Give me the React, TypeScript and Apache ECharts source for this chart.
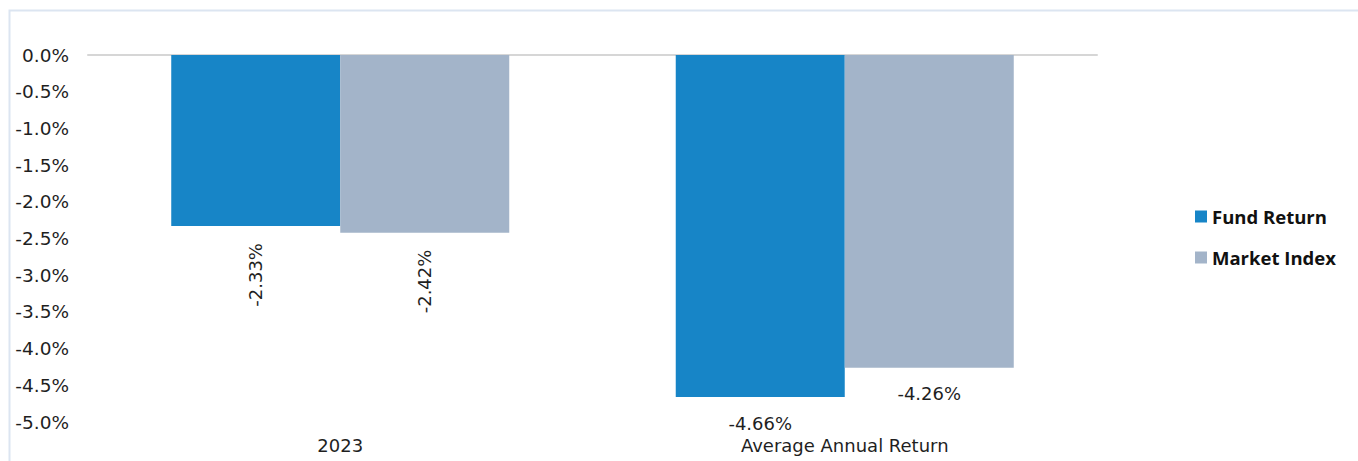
import React, { useEffect, useRef } from "react";
import * as echarts from "echarts";

const categories = ["2023", "Average Annual Return"];
const fundReturn = [-2.33, -4.66];
const marketIndex = [-2.42, -4.26];
const seriesNames = ["Fund Return", "Market Index"];

const FONT = "'DejaVu Sans', sans-serif";
const TEXT = "#1f1f1f";

function labelFor(i: number) {
  if (i === 0) {
    return {
      show: true,
      position: "bottom",
      distance: 17,
      rotate: 90,
      align: "right",
      verticalAlign: "middle",
      fontFamily: FONT,
      fontSize: 18,
      color: TEXT,
      formatter: (p: any) => p.value.toFixed(2) + "%",
    };
  }
  return {
    show: true,
    position: "bottom",
    distance: 17,
    fontFamily: FONT,
    fontSize: 18,
    color: TEXT,
    formatter: (p: any) => p.value.toFixed(2) + "%",
  };
}

export default function App() {
  const ref = useRef<HTMLDivElement>(null);
  useEffect(() => {
    if (!ref.current) return;
    const chart = echarts.init(ref.current, null, { renderer: "svg" });
    chart.setOption({
      animation: false,
      backgroundColor: "#ffffff",
      graphic: [
        {
          type: "rect",
          shape: { x: 9.5, y: 10.5, width: 1400, height: 500 },
          style: { fill: "none", stroke: "#dce5f1", lineWidth: 2 },
          silent: true,
        },
      ],
      legend: {
        orient: "vertical",
        left: 1190,
        top: 202,
        itemWidth: 12,
        itemHeight: 12,
        itemGap: 22,
        icon: "rect",
        data: seriesNames,
        textStyle: {
          fontFamily: "'Open Sans', sans-serif",
          fontWeight: "bold",
          fontSize: 18.5,
          lineHeight: 18,
          color: "#111",
        },
      },
      grid: { left: 88, right: 261, top: 55, bottom: 39 },
      xAxis: [
        {
          type: "category",
          data: categories,
          position: "bottom",
          axisLine: { show: false, onZero: false },
          axisTick: { show: false },
          axisLabel: {
            fontFamily: FONT,
            fontSize: 18,
            color: TEXT,
            margin: 14,
          },
        },
        {
          type: "category",
          data: categories,
          position: "top",
          axisLine: { show: true, onZero: false, lineStyle: { color: "#d6d6d6", width: 2 } },
          axisTick: { show: false },
          axisLabel: { show: false },
        },
      ],
      yAxis: {
        type: "value",
        min: -5,
        max: 0,
        interval: 0.5,
        axisLine: { show: false },
        axisTick: { show: false },
        splitLine: { show: false },
        axisLabel: {
          fontFamily: FONT,
          fontSize: 18.5,
          color: TEXT,
          margin: 19,
          formatter: (v: number) => v.toFixed(1) + "%",
        },
      },
      series: [
        {
          name: seriesNames[0],
          type: "bar",
          xAxisIndex: 0,
          barGap: "0%",
          barCategoryGap: "33%",
          itemStyle: { color: "#1785c7" },
          data: fundReturn.map((v, i) => ({ value: v, label: labelFor(i) })),
        },
        {
          name: seriesNames[1],
          type: "bar",
          xAxisIndex: 0,
          barGap: "0%",
          barCategoryGap: "33%",
          itemStyle: { color: "#a3b4c9" },
          data: marketIndex.map((v, i) => ({ value: v, label: labelFor(i) })),
        },
      ],
    });
    return () => chart.dispose();
  }, []);
  return (
    <div
      ref={ref}
      style={{ position: "fixed", left: 0, top: 0, width: 1358, height: 461 }}
    />
  );
}
